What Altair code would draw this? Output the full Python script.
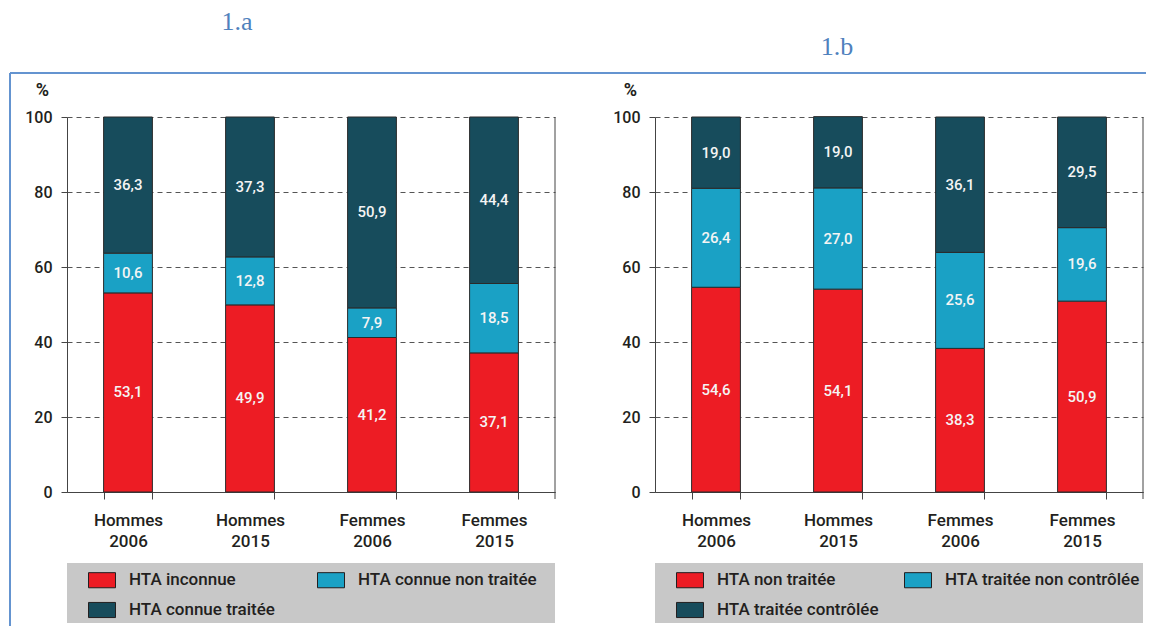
import altair as alt
import pandas as pd

# ---------------- data ----------------
cats = ["Hommes 2006", "Hommes 2015", "Femmes 2006", "Femmes 2015"]

series_a = ["HTA inconnue", "HTA connue non traitée", "HTA connue traitée"]
hta_inconnue = [53.1, 49.9, 41.2, 37.1]
hta_connue_non_traitee = [10.6, 12.8, 7.9, 18.5]
hta_connue_traitee = [36.3, 37.3, 50.9, 44.4]

series_b = ["HTA non traitée", "HTA traitée non contrôlée", "HTA traitée contrôlée"]
hta_non_traitee = [54.6, 54.1, 38.3, 50.9]
hta_traitee_non_controlee = [26.4, 27.0, 25.6, 19.6]
hta_traitee_controlee = [19.0, 19.0, 36.1, 29.5]

panel_titles = ["1.a", "1.b"]
y_ticks = [0, 20, 40, 60, 80, 100]

colors = ["#ed1c24", "#1aa1c5", "#174c5c"]

FONT = "Roboto, Liberation Sans, sans-serif"
FW = 500
TXT = "#231f20"
W, H = 488, 375
FRAME = "#6494d0"

RECT_PATH = "M-1,-0.56L1,-0.56L1,0.56L-1,0.56Z"


def long_df(series, arrays):
    rows = []
    for k, (s, vals) in enumerate(zip(series, arrays)):
        for c, v in zip(cats, vals):
            rows.append({"cat": c, "serie": s, "value": v, "order": k,
                         "label": f"{v:.1f}".replace(".", ",")})
    return pd.DataFrame(rows)


def panel(series, arrays, title, tx, ty, first, col_pad):
    df = long_df(series, arrays)
    one = pd.DataFrame({"t": [title]})
    base = alt.Chart(df)

    xenc = alt.X("cat:N", sort=cats,
                 scale=alt.Scale(paddingInner=0.6, paddingOuter=0.3),
                 axis=alt.Axis(title=None, labelAngle=0,
                               labelExpr="split(datum.label, ' ')",
                               tickBand="extent", tickSize=7,
                               tickColor="#444", domainColor="#444",
                               labelFont=FONT, labelFontSize=17,
                               labelFontWeight=FW,
                               labelColor=TXT, labelPadding=13,
                               labelLineHeight=21, labelBaseline="top"))
    yscale = alt.Scale(domain=[0, 100], nice=False, zero=True)

    bars = base.mark_bar(stroke="#2a2a2a", strokeWidth=1).encode(
        x=xenc,
        y=alt.Y("value:Q", stack="zero", scale=yscale,
                axis=alt.Axis(values=y_ticks, title="%", titleAngle=0,
                              titleX=-25, titleY=-27, titleAlign="center",
                              titleBaseline="middle", titleFont=FONT,
                              titleFontSize=18, titleFontWeight="bold",
                              titleColor=TXT, grid=True, gridDash=[5, 4],
                              gridColor="#555", gridWidth=1,
                              tickSize=6, tickColor="#444",
                              domainColor="#444", labelFont=FONT,
                              labelFontSize=16, labelFontWeight=FW,
                              labelColor=TXT, labelPadding=9)),
        color=alt.Color("serie:N",
                        scale=alt.Scale(domain=series, range=colors),
                        legend=alt.Legend(orient="none", legendX=21,
                                          legendY=449, columns=2,
                                          direction="horizontal",
                                          title=None, symbolType=RECT_PATH,
                                          symbolSize=729,
                                          symbolStrokeColor="#231f20",
                                          symbolStrokeWidth=1,
                                          symbolOpacity=1,
                                          labelFont=FONT, labelFontSize=17,
                                          labelFontWeight=FW, labelLimit=400,
                                          labelColor=TXT, labelOffset=13,
                                          columnPadding=col_pad,
                                          rowPadding=6, padding=0)),
        order=alt.Order("order:Q"),
    )

    texts = base.transform_stack(
        stack="value", groupby=["cat"], sort=[alt.SortField("order")],
        as_=["v0", "v1"]
    ).transform_calculate(mid="(datum.v0 + datum.v1) / 2").mark_text(
        font=FONT, fontSize=15, fontWeight=FW, color="#f4f4f4", baseline="middle"
    ).encode(x=alt.X("cat:N", sort=cats), y=alt.Y("mid:Q", scale=yscale),
             text="label:N")

    right = alt.Chart(one).mark_rule(color="#444", strokeWidth=1).encode(
        x=alt.value(W), y=alt.value(0), y2=alt.value(H + 7))

    legend_bg = alt.Chart(one).mark_rect(color="#c8c8c8").encode(
        x=alt.value(0), x2=alt.value(W), y=alt.value(446), y2=alt.value(506))

    ttl = alt.Chart(one).mark_text(
        font="Liberation Serif", fontSize=26, color="#4f81bd",
        baseline="middle", align="center"
    ).encode(x=alt.value(tx), y=alt.value(ty), text="t:N")

    layers = [legend_bg, bars, texts, right, ttl]
    if first:
        anchor = alt.Chart(one).mark_rule(strokeOpacity=0, strokeWidth=1).encode(
            x=alt.value(-58.5), y=alt.value(-108.5), y2=alt.value(-100))
        hline = alt.Chart(one).mark_rule(color=FRAME, strokeWidth=2).encode(
            x=alt.value(-57), x2=alt.value(1079), y=alt.value(-44))
        vline = alt.Chart(one).mark_rule(color=FRAME, strokeWidth=2).encode(
            x=alt.value(-57), y=alt.value(-44), y2=alt.value(509))
        layers = [anchor, hline, vline] + layers
    return alt.layer(*layers).properties(width=W, height=H)


pa = panel(series_a, [hta_inconnue, hta_connue_non_traitee, hta_connue_traitee],
           panel_titles[0], 170, -95, True, 40)
pb = panel(series_b, [hta_non_traitee, hta_traitee_non_controlee, hta_traitee_controlee],
           panel_titles[1], 182, -70, False, 23)

chart = alt.hconcat(pa, pb, spacing=100, bounds="flush").resolve_scale(
    color="independent"
).properties(padding=0, background="white").configure_view(stroke=None)

chart.save("out.html", embed_options={"renderer": "svg", "actions": False})
